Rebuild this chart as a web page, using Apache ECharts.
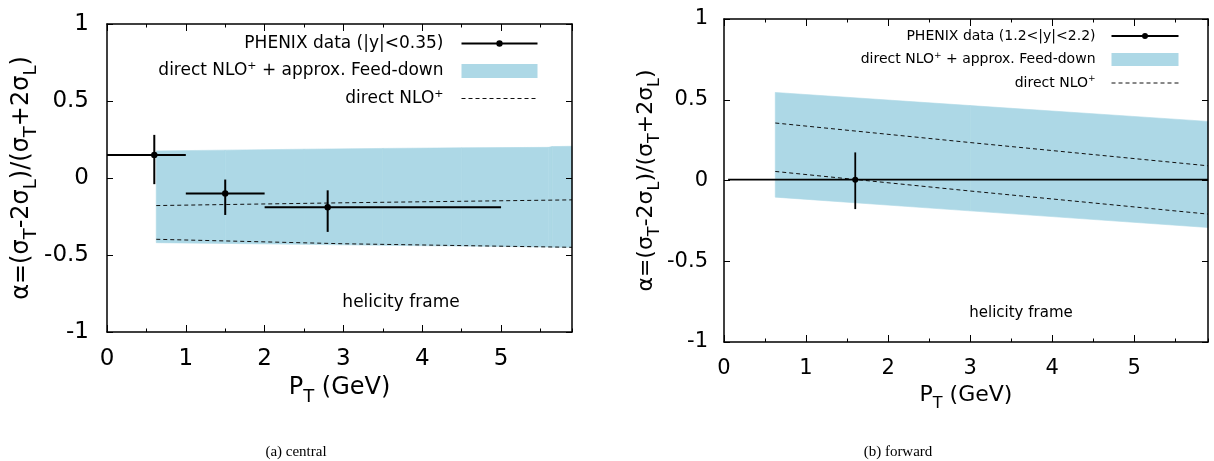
<!DOCTYPE html>
<html><head><meta charset="utf-8">
<script src="https://cdn.jsdelivr.net/npm/echarts@6/dist/echarts.min.js"></script>
<style>html,body{margin:0;padding:0;background:#fff}#c{width:1214px;height:461px}</style>
</head><body><div id="c"></div>
<script>
// ---------- data ----------
// (a) central: PHENIX points
const centralX = [0.6, 1.5, 2.8];
const centralXLow = [0.0, 1.0, 2.0];
const centralXHigh = [1.0, 2.0, 5.0];
const centralY = [0.15, -0.10, -0.19];
const centralYLow = [-0.04, -0.24, -0.35];
const centralYHigh = [0.28, -0.01, -0.08];
// (a) central: band (direct NLO+ + approx. Feed-down)
const centralBandX = [0.625, 1.5, 2.5, 3.5, 4.5, 5.6, 5.65, 5.9];
const centralBandLow = [-0.420, -0.425, -0.431, -0.437, -0.442, -0.448, -0.449, -0.450];
const centralBandHigh = [0.176, 0.181, 0.187, 0.192, 0.196, 0.199, 0.204, 0.206];
// (a) central: direct NLO+ dashed curves
const centralDashX = [0.625, 3.0, 5.9];
const centralDashUpper = [-0.179, -0.161, -0.142];
const centralDashLower = [-0.398, -0.427, -0.450];

// (b) forward: PHENIX point
const forwardX = [1.6];
const forwardXLow = [0.05];
const forwardXHigh = [6.0];
const forwardY = [0.005];
const forwardYLow = [-0.177];
const forwardYHigh = [0.174];
// (b) forward: band
const forwardBandX = [0.625, 3.0, 5.9];
const forwardBandLow = [-0.103, -0.188, -0.291];
const forwardBandHigh = [0.545, 0.464, 0.366];
// (b) forward: dashed curves
const forwardDashX = [0.625, 3.0, 5.9];
const forwardDashUpper = [0.356, 0.235, 0.091];
const forwardDashLower = [0.056, -0.065, -0.208];

// axis ranges
const xMin = 0, xMax = 5.9, yMin = -1, yMax = 1;

// ---------- names ----------
const PH_C = 'PHENIX data (|y|<0.35)';
const PH_F = 'PHENIX data (1.2<|y|<2.2)';
const BAND = 'direct NLO+ + approx. Feed-down';
const DASH = 'direct NLO+';
const FONT = 'DejaVu Sans';
const BLUE = '#add8e6';

const chart = echarts.init(document.getElementById('c'));

function bandSeries(xi, yi, xs, lo, hi) {
  const data = xs.map((x, i) => [x, lo[i], hi[i]]);
  return {
    type: 'custom', name: BAND, xAxisIndex: xi, yAxisIndex: yi, data: data, z: 1,
    itemStyle: { color: BLUE }, silent: true,
    renderItem(params, api) {
      const i = params.dataIndex;
      if (i >= data.length - 1) return null;
      const a = data[i], b = data[i + 1];
      const pts = [api.coord([a[0], a[2]]), api.coord([b[0], b[2]]),
                   api.coord([b[0], b[1]]), api.coord([a[0], a[1]])];
      return { type: 'polygon', shape: { points: pts },
               style: { fill: BLUE, stroke: BLUE, lineWidth: 0.6 } };
    }
  };
}
function dashSeries(xi, yi, xs, ys) {
  return {
    type: 'line', name: DASH, xAxisIndex: xi, yAxisIndex: yi, z: 2, silent: true,
    data: xs.map((x, i) => [x, ys[i]]), symbol: 'none',
    itemStyle: { color: '#000' },
    lineStyle: { color: '#111', width: 1, type: [4, 3] }
  };
}
function errSeries(name, xi, yi, xs, xl, xh, ys, yl, yh, lw, r) {
  const data = xs.map((x, i) => [x, ys[i], xl[i], xh[i], yl[i], yh[i]]);
  return {
    type: 'custom', name: name, xAxisIndex: xi, yAxisIndex: yi, data: data, z: 3,
    clip: true, silent: true, itemStyle: { color: '#000' },
    renderItem(params, api) {
      const x = api.value(0), y = api.value(1);
      const c = api.coord([x, y]);
      const l = api.coord([api.value(2), y]), rr = api.coord([api.value(3), y]);
      const b = api.coord([x, api.value(4)]), t = api.coord([x, api.value(5)]);
      const st = { stroke: '#000', lineWidth: lw };
      return { type: 'group', children: [
        { type: 'line', shape: { x1: l[0], y1: l[1], x2: rr[0], y2: rr[1] }, style: st },
        { type: 'line', shape: { x1: b[0], y1: b[1], x2: t[0], y2: t[1] }, style: st },
        { type: 'circle', shape: { cx: c[0], cy: c[1], r: r }, style: { fill: '#000' } }
      ] };
    }
  };
}

function xAxes(g, fs, nameGap, nameRich, nameStr) {
  const tick = (len) => ({ show: true, inside: true, length: len, lineStyle: { color: '#000', width: 1 } });
  const base = { gridIndex: g, type: 'value', min: xMin, max: xMax, splitLine: { show: false } };
  return [
    Object.assign({}, base, { position: 'bottom', interval: 1, z: 10,
      axisLine: { show: true, onZero: false, lineStyle: { color: '#000', width: 1.5 } },
      axisTick: tick(7),
      axisLabel: { show: true, showMaxLabel: false, margin: 16, color: '#000', fontFamily: FONT, fontSize: fs },
      name: nameStr, nameLocation: 'middle', nameGap: nameGap, nameTextStyle: { rich: nameRich } }),
    Object.assign({}, base, { position: 'bottom', interval: 0.5, z: 10,
      axisLine: { show: false, onZero: false }, axisTick: tick(3.5), axisLabel: { show: false } }),
    Object.assign({}, base, { position: 'top', interval: 1, z: 10,
      axisLine: { show: true, onZero: false, lineStyle: { color: '#000', width: 1.5 } },
      axisTick: tick(7), axisLabel: { show: false } }),
    Object.assign({}, base, { position: 'top', interval: 0.5, z: 10,
      axisLine: { show: false, onZero: false }, axisTick: tick(3.5), axisLabel: { show: false } })
  ];
}
function yAxes(g, fs, margin, nameGap, nameRich, nameStr) {
  const tick = { show: true, inside: true, length: 6, lineStyle: { color: '#000', width: 1 } };
  const base = { gridIndex: g, type: 'value', min: yMin, max: yMax, interval: 0.5, splitLine: { show: false }, z: 10,
    axisLine: { show: true, onZero: false, lineStyle: { color: '#000', width: 1.5 } }, axisTick: tick };
  return [
    Object.assign({}, base, { position: 'left',
      axisLabel: { show: true, margin: margin, color: '#000', fontFamily: FONT, fontSize: fs },
      name: nameStr, nameLocation: 'middle', nameRotate: 90, nameGap: nameGap, nameTextStyle: { rich: nameRich } }),
    Object.assign({}, base, { position: 'right', axisLabel: { show: false } })
  ];
}
function richTitle(fm, lh, fsub) {
  return {
    m: { fontFamily: FONT, fontSize: fm, lineHeight: lh, color: '#000' },
    s: { fontFamily: FONT, fontSize: fsub, lineHeight: fsub, verticalAlign: 'bottom', color: '#000' }
  };
}
const yTitle = '{m|α=(σ}{s|T}{m|-2σ}{s|L}{m|)/(σ}{s|T}{m|+2σ}{s|L}{m|)}';
const xTitle = '{m|P}{s|T}{m| (GeV)}';

function legendFmt(name) {
  if (name === BAND) return '{t|direct NLO}{s|+}{t| + approx. Feed-down}';
  if (name === DASH) return '{t|direct NLO}{s|+}';
  return '{t|' + name + '}';
}
function legendCfg(phName, right, top, w, h, gap, fs, lh, pad, r) {
  const cy = h / 2;
  const icon = 'path://M0,0M' + w + ',' + h + 'M0,' + (cy - 1) + 'h' + w + 'v2h-' + w + 'z' +
    'M' + (w / 2 + r) + ',' + cy + 'a' + r + ',' + r + ',0,1,1,-' + (2 * r) + ',0a' + r + ',' + r + ',0,1,1,' + (2 * r) + ',0z';
  return {
    orient: 'vertical', align: 'right', right: right, top: top, itemWidth: w, itemHeight: h, itemGap: gap,
    padding: 0, selectedMode: false,
    data: [
      { name: phName, icon: icon, itemStyle: { color: '#000' } },
      { name: BAND, icon: 'rect', itemStyle: { color: BLUE } },
      { name: DASH, itemStyle: { opacity: 0 }, lineStyle: { color: '#111', width: 1, type: [4, 3] } }
    ],
    formatter: legendFmt,
    textStyle: { fontFamily: FONT, fontSize: fs, color: '#000', padding: [0, pad, 0, 0],
      rich: {
        t: { fontFamily: FONT, fontSize: fs, lineHeight: lh, color: '#000' },
        s: { fontFamily: FONT, fontSize: Math.round(fs * 0.65), lineHeight: Math.round(fs * 0.45), verticalAlign: 'top', color: '#000' }
      } }
  };
}

const option = {
  animation: false,
  backgroundColor: '#fff',
  grid: [
    { left: 107, top: 24, width: 465, height: 308, show: false },
    { left: 724, top: 19, width: 484, height: 323, show: false }
  ],
  xAxis: [].concat(
    xAxes(0, 23, 37, richTitle(24, 36, 18), xTitle),
    xAxes(1, 21, 34, richTitle(22, 33, 16), xTitle)
  ),
  yAxis: [].concat(
    yAxes(0, 23, 18, 57, richTitle(24, 36, 18), yTitle),
    yAxes(1, 21, 16, 49, richTitle(22, 33, 16), yTitle)
  ),
  legend: [
    legendCfg(PH_C, 676, 35, 76, 14, 9, 17, 20, 13, 3.2),
    legendCfg(PH_F, 35, 29, 67, 13, 8, 14, 17, 11, 3)
  ],
  graphic: [
    { type: 'text', x: 401, y: 303, style: { text: 'helicity frame', font: '17px "DejaVu Sans"', fill: '#000', align: 'center', verticalAlign: 'middle' } },
    { type: 'text', x: 1021, y: 313, style: { text: 'helicity frame', font: '15px "DejaVu Sans"', fill: '#000', align: 'center', verticalAlign: 'middle' } },
    { type: 'text', x: 296, y: 452, style: { text: '(a) central', font: '15px "Liberation Serif"', fill: '#000', align: 'center', verticalAlign: 'middle' } },
    { type: 'text', x: 898, y: 452, style: { text: '(b) forward', font: '15px "Liberation Serif"', fill: '#000', align: 'center', verticalAlign: 'middle' } }
  ],
  series: [
    bandSeries(0, 0, centralBandX, centralBandLow, centralBandHigh),
    dashSeries(0, 0, centralDashX, centralDashUpper),
    dashSeries(0, 0, centralDashX, centralDashLower),
    errSeries(PH_C, 0, 0, centralX, centralXLow, centralXHigh, centralY, centralYLow, centralYHigh, 2, 3.2),
    bandSeries(4, 2, forwardBandX, forwardBandLow, forwardBandHigh),
    dashSeries(4, 2, forwardDashX, forwardDashUpper),
    dashSeries(4, 2, forwardDashX, forwardDashLower),
    errSeries(PH_F, 4, 2, forwardX, forwardXLow, forwardXHigh, forwardY, forwardYLow, forwardYHigh, 1.8, 3)
  ]
};
chart.setOption(option);
</script></body></html>
